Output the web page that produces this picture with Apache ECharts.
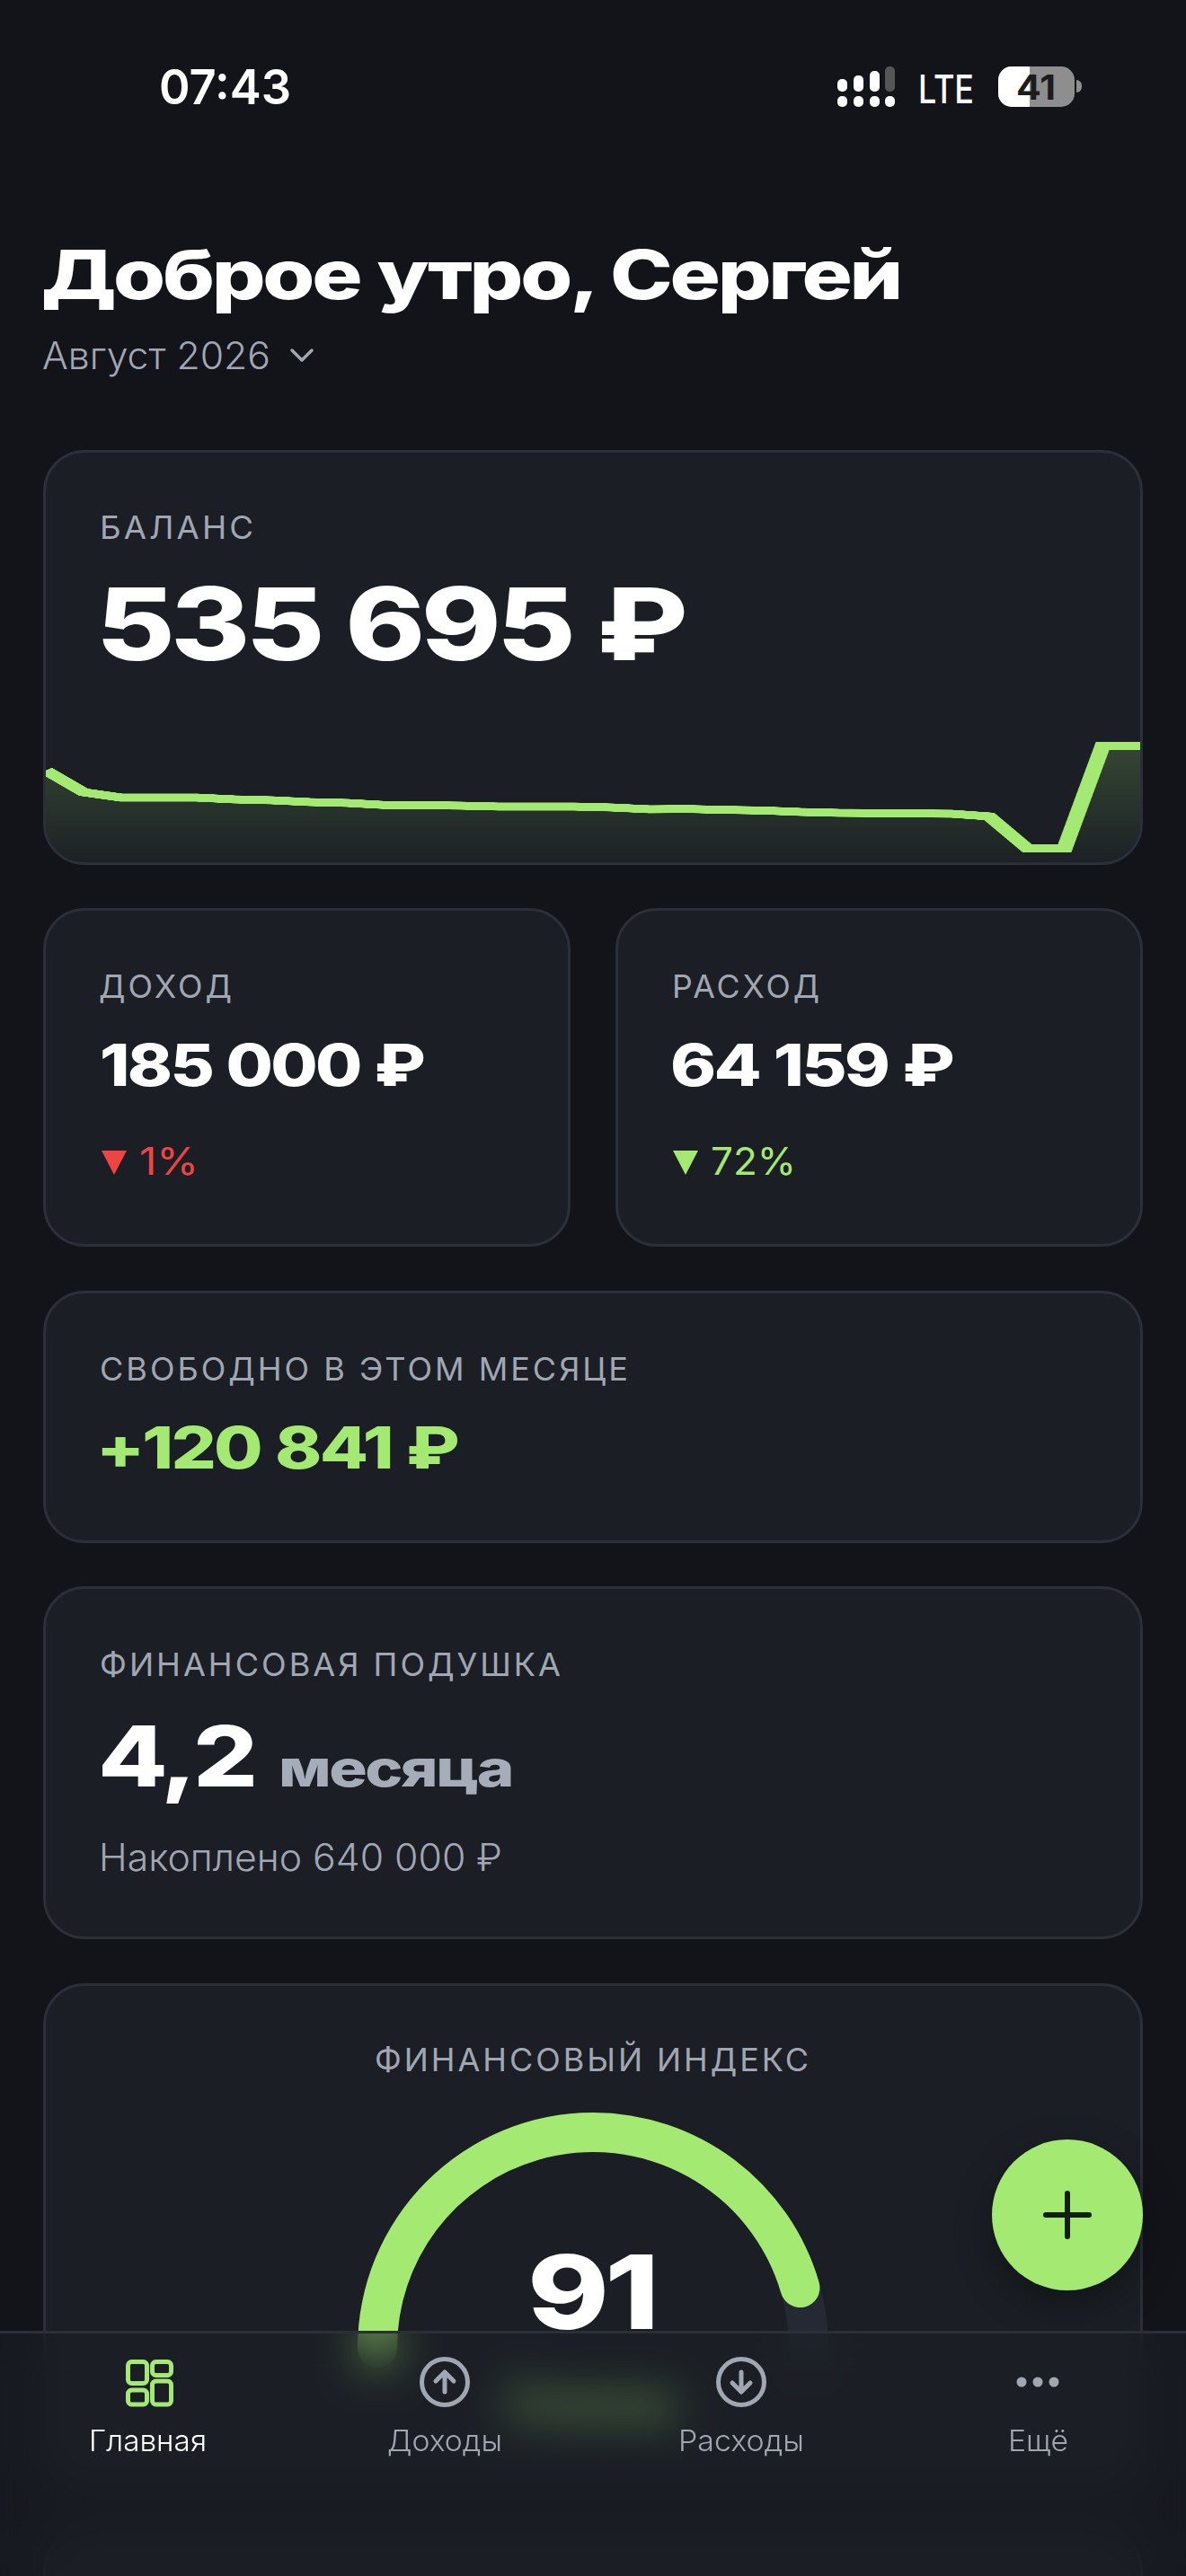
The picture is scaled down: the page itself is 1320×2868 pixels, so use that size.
<!DOCTYPE html>
<html lang="ru">
<head>
<meta charset="utf-8">
<title>Главная</title>
<script src="https://cdn.jsdelivr.net/npm/echarts@6/dist/echarts.min.js"></script>
<style>
  html, body { margin: 0; background: #12141a; }
  #page { position: relative; width: 1320px; height: 2868px; overflow: hidden; background: #12141a; font-family: Inter, sans-serif; }
  .t { position: absolute; white-space: pre; line-height: 1; transform-origin: 0 50%; }
  .h { font-weight: 800; letter-spacing: -.035em; word-spacing: .02em; color: #fff; }
  .card { position: absolute; box-sizing: border-box; background: #1b1f25; border: 3px solid #2a2f38; border-radius: 46px; overflow: hidden; }
  .label { font-size: 36px; font-weight: 400; color: #a1a7b2; letter-spacing: 3px; }
  .grey { color: #a1a7b2; }
  .body { font-size: 42px; font-weight: 300; }
  .abs { position: absolute; }
  #nav { position: absolute; left: 0; top: 2595px; width: 1320px; height: 273px; box-sizing: border-box; border-top: 3px solid #2a2f38; background: rgba(28, 32, 38, .5); backdrop-filter: blur(24px); }
  #fab { position: absolute; left: 1104px; top: 2382px; width: 168px; height: 168px; border-radius: 50%; background: #a3e972; box-shadow: 0 16px 40px rgba(0, 0, 0, .35); }
  .bar { position: absolute; width: 11px; border-radius: 5px; background: #fff; }
</style>
</head>
<body>
<div id="page">
  <!-- статусбар -->
  <div class="t" data-w="147" style="left:177px;top:117px;font-size:54px;font-weight:600;color:#fff">07:43</div>
  <div class="bar" style="left:932px;top:88px;height:14px"></div>
  <div class="bar" style="left:950px;top:84px;height:18px"></div>
  <div class="bar" style="left:968px;top:79px;height:23px"></div>
  <div class="bar" style="left:985px;top:74px;height:28px;background:#555"></div>
  <div class="bar" style="left:932px;top:107px;height:12px"></div>
  <div class="bar" style="left:950px;top:107px;height:12px"></div>
  <div class="bar" style="left:968px;top:107px;height:12px"></div>
  <div class="bar" style="left:985px;top:107px;height:12px"></div>
  <div class="t" data-w="62" style="left:1022px;top:115px;font-size:44px;font-weight:500;color:#fff">LTE</div>
  <div class="abs" style="left:1111px;top:74px;width:85px;height:45px;border-radius:15px;overflow:hidden;background:#8e8e8e">
    <div class="abs" style="left:0;top:0;width:35px;height:45px;background:#fff"></div>
  </div>
  <div class="abs" style="left:1198px;top:89px;width:6px;height:14px;border-radius:0 7px 7px 0;background:#8e8e8e"></div>
  <div class="t" data-w="44" style="left:1131px;top:111px;font-size:38px;font-weight:700;color:#1c1c1e">41</div>

  <!-- заголовок -->
  <div class="t h" data-w="956" style="left:46px;top:333px;font-size:76px">Доброе утро, Сергей</div>
  <div class="t grey body" data-w="254" style="left:47px;top:411px">Август 2026</div>
  <svg class="abs" style="left:322px;top:386px" width="28" height="20"><path d="M3 4 L14 15 L25 4" fill="none" stroke="#a1a7b2" stroke-width="3.5" stroke-linecap="round" stroke-linejoin="round"/></svg>

  <!-- баланс -->
  <div class="card" style="left:48px;top:501px;width:1224px;height:462px">
    <div id="balanceChart" class="abs" style="left:0;top:296px;width:609px;height:160px;transform:scaleX(2);transform-origin:0 0"></div>
  </div>
  <div class="t label" data-w="174" style="left:111px;top:600px">БАЛАНС</div>
  <div class="t h" data-w="654" style="left:107px;top:735px;font-size:112px">535 695 ₽</div>

  <!-- доход / расход -->
  <div class="card" style="left:48px;top:1011px;width:587px;height:377px"></div>
  <div class="t label" data-w="151" style="left:110px;top:1111px">ДОХОД</div>
  <div class="t h" data-w="360" style="left:111px;top:1209px;font-size:64px">185 000 ₽</div>
  <svg class="abs" style="left:112px;top:1280px" width="30" height="30"><path d="M1 1 H29 L15 28 Z" fill="#ef4444"/></svg>
  <div class="t body" data-w="66" style="left:155px;top:1308px;font-weight:400;color:#ef4444">1%</div>

  <div class="card" style="left:685px;top:1011px;width:587px;height:377px"></div>
  <div class="t label" data-w="167" style="left:748px;top:1111px">РАСХОД</div>
  <div class="t h" data-w="314" style="left:746px;top:1209px;font-size:64px">64 159 ₽</div>
  <svg class="abs" style="left:748px;top:1280px" width="30" height="30"><path d="M1 1 H29 L15 28 Z" fill="#a3e972"/></svg>
  <div class="t body" data-w="95" style="left:791px;top:1308px;font-weight:400;color:#a3e972">72%</div>

  <!-- свободно -->
  <div class="card" style="left:48px;top:1437px;width:1224px;height:281px"></div>
  <div class="t label" data-w="591" style="left:111px;top:1537px">СВОБОДНО В ЭТОМ МЕСЯЦЕ</div>
  <div class="t h" data-w="402" style="left:107px;top:1635px;font-size:64px;color:#a3e972">+120 841 ₽</div>

  <!-- подушка -->
  <div class="card" style="left:48px;top:1766px;width:1224px;height:393px"></div>
  <div class="t label" data-w="516" style="left:111px;top:1866px">ФИНАНСОВАЯ ПОДУШКА</div>
  <div class="t h" data-w="174" style="left:109px;top:1989px;font-size:94px">4,2</div>
  <div class="t h" data-w="260" style="left:310px;top:1989px;font-size:56px;color:#a7adb8">месяца</div>
  <div class="t grey body" data-w="449" style="left:110px;top:2083px">Накоплено 640 000 ₽</div>

  <!-- индекс -->
  <div class="card" style="left:48px;top:2208px;width:1224px;height:558px"></div>
  <div class="t label" data-w="486" style="left:417px;top:2306px">ФИНАНСОВЫЙ ИНДЕКС</div>
  <div id="indexChart" class="abs" style="left:300px;top:2320px;width:720px;height:360px"></div>
  <div id="indexText" class="t h" data-w="142" style="left:587px;top:2593px;font-size:114px"></div>
  <div class="t" data-w="186" style="left:566px;top:2696px;font-size:56px;font-weight:800;color:#a3e972">Отлично</div>
  <div class="card" style="left:48px;top:2816px;width:1224px;height:200px"></div>

  <div id="fab"></div>
  <svg class="abs" style="left:1160px;top:2438px" width="56" height="56"><path d="M4 28 H52 M28 4 V52" stroke="#10200c" stroke-width="6" stroke-linecap="round"/></svg>

  <!-- нижнее меню -->
  <div id="nav"></div>
  <svg class="abs" style="left:137px;top:2624px" width="56" height="56" fill="none" stroke="#a3e972" stroke-width="5">
    <rect x="5.5" y="5.5" width="21" height="24" rx="4"/><rect x="32.5" y="5.5" width="21" height="15" rx="4"/>
    <rect x="5.5" y="37" width="21" height="16" rx="4"/><rect x="32.5" y="27" width="21" height="26" rx="4"/>
  </svg>
  <svg class="abs" style="left:465px;top:2622px" width="60" height="60" fill="none" stroke="#a1a7b2" stroke-width="5" stroke-linecap="round" stroke-linejoin="round">
    <circle cx="30" cy="30" r="25.5"/><path d="M30 41 V19 M20 29 L30 19 L40 29"/>
  </svg>
  <svg class="abs" style="left:795px;top:2622px" width="60" height="60" fill="none" stroke="#a1a7b2" stroke-width="5" stroke-linecap="round" stroke-linejoin="round">
    <circle cx="30" cy="30" r="25.5"/><path d="M30 19 V41 M20 31 L30 41 L40 31"/>
  </svg>
  <svg class="abs" style="left:1125px;top:2642px" width="60" height="20" fill="#a1a7b2">
    <circle cx="12" cy="10" r="5.5"/><circle cx="30" cy="10" r="5.5"/><circle cx="48" cy="10" r="5.5"/>
  </svg>
  <div class="t" data-w="131" style="left:99px;top:2729px;font-size:33px;font-weight:300;color:#fff">Главная</div>
  <div class="t grey" data-w="128" style="left:431px;top:2729px;font-size:33px;font-weight:300">Доходы</div>
  <div class="t grey" data-w="140" style="left:755px;top:2729px;font-size:33px;font-weight:300">Расходы</div>
  <div class="t grey" data-w="67" style="left:1122px;top:2729px;font-size:33px;font-weight:300">Ещё</div>
</div>

<script>
// дни месяца
const days = ['1', '2', '3', '4', '5', '6', '7', '8', '9', '10', '11', '12', '13', '14', '15',
  '16', '17', '18', '19', '20', '21', '22', '23', '24', '25', '26', '27', '28', '29', '30']

// баланс по дням
const balance = [491900, 452200, 442450, 442450, 442450, 439200, 437550, 434300, 432650, 428900,
  428600, 427750, 426150, 426150, 426150, 424500, 421250, 421750, 420100, 419100,
  416350, 414700, 414250, 413600, 413100, 408200, 350695, 350695, 535695, 535695]

const indexValue = [91]

const GREEN = '#a3e972'

document.getElementById('indexText').textContent = indexValue[0]

// текст ставим по базовой линии и подгоняем ширину
document.querySelectorAll('.t').forEach((el) => {
  const size = parseFloat(getComputedStyle(el).fontSize)
  el.style.top = (parseFloat(el.style.top) - size * 0.8636) + 'px'
  const w = el.getBoundingClientRect().width
  el.style.transform = 'scaleX(' + (parseFloat(el.dataset.w) / w) + ')'
})

// линия в оригинале растянута по ширине, поэтому canvas вдвое уже и scaleX(2)
const balanceChart = echarts.init(document.getElementById('balanceChart'), null, { devicePixelRatio: 3 })
balanceChart.setOption({
  animation: false,
  grid: { left: 0, right: 0, top: 0, bottom: 0 },
  xAxis: { type: 'category', data: days, boundaryGap: false, show: false },
  yAxis: { type: 'value', min: 325000, max: 586000, show: false },
  series: [{
    type: 'line',
    data: balance,
    symbol: 'none',
    lineStyle: { color: GREEN, width: 9, join: 'miter', cap: 'butt' },
    areaStyle: {
      color: new echarts.graphic.LinearGradient(0, 0, 0, 1, [
        { offset: 0, color: 'rgba(163,233,114,.28)' },
        { offset: 1, color: 'rgba(163,233,114,.02)' }
      ])
    }
  }]
})

const indexChart = echarts.init(document.getElementById('indexChart'))
indexChart.setOption({
  animation: false,
  series: [{
    type: 'gauge',
    center: [360, 294],
    radius: 262,
    min: 0,
    max: 100,
    startAngle: 180,
    endAngle: 0,
    data: indexValue,
    pointer: { show: false },
    axisTick: { show: false },
    splitLine: { show: false },
    axisLabel: { show: false },
    anchor: { show: false },
    title: { show: false },
    detail: { show: false },
    axisLine: { roundCap: true, lineStyle: { width: 44, color: [[1, '#242933']] } },
    progress: { show: true, roundCap: true, width: 44, itemStyle: { color: GREEN } }
  }]
})
</script>
</body>
</html>
